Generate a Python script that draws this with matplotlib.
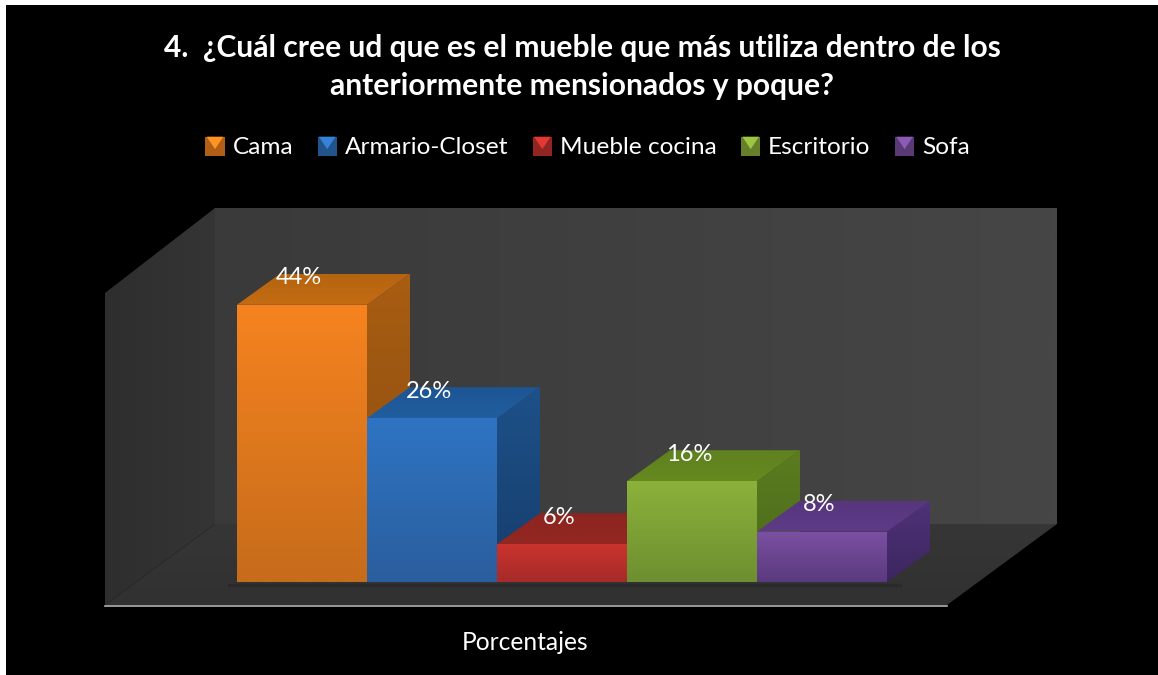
import matplotlib
matplotlib.use('Agg')
import matplotlib.pyplot as plt
import numpy as np
from matplotlib.colors import to_rgb
from matplotlib.legend_handler import HandlerBase
from matplotlib.patches import Patch, Polygon, Rectangle

plt.rcParams['font.family'] = ['Lato', 'DejaVu Sans']

categories = ['Cama', 'Armario-Closet', 'Mueble cocina', 'Escritorio', 'Sofa']
values = [44, 26, 6, 16, 8]
value_labels = ['44%', '26%', '6%', '16%', '8%']
title_lines = ['4.  ¿Cuál cree ud que es el mueble que más utiliza dentro de los',
               'anteriormente mensionados y poque?']
x_label = 'Porcentajes'

# colours: front top/bottom, roof back/front, side top/bottom
front_cols = [('#F6831F', '#C66C1B'), ('#2F74C2', '#2A5E9E'), ('#CB332E', '#A52B2A'),
              ('#8CB13B', '#6E8F30'), ('#7B50A2', '#5A3A7E')]
roof_cols = [('#B5640F', '#C46C14'), ('#1D5594', '#215E9F'), ('#8C2520', '#942722'),
             ('#5F8120', '#67891F'), ('#57367E', '#5F3B87')]
side_cols = [('#A85D12', '#8A4C10'), ('#1D5189', '#163D6C'), ('#7A201C', '#601A18'),
             ('#5C7C20', '#48681A'), ('#4F3278', '#3C2660')]
W, H = 1158, 675
PX_CAT, PX_PCT = 130, 6.3
DX, DY = 43 / PX_CAT, 31 / PX_PCT


def gradient(ax, pts, top, bottom, horizontal=False, z=2):
    # fill a polygon with a two stop gradient
    pts = np.array(pts)
    stops = np.linspace(to_rgb(top), to_rgb(bottom), 64)
    img = stops[None, :, :] if horizontal else stops[:, None, :]
    ext = [pts[:, 0].min(), pts[:, 0].max(), pts[:, 1].min(), pts[:, 1].max()]
    im = ax.imshow(img, extent=ext, origin='upper', aspect='auto', zorder=z,
                   interpolation='bilinear')
    clip = Polygon(pts, closed=True, transform=ax.transData, fc='none', ec='none')
    ax.add_patch(clip)
    im.set_clip_path(clip)


class PyramidHandler(HandlerBase):
    # legend key drawn like the bevelled squares of the chart
    def create_artists(self, legend, orig, xd, yd, width, height, fontsize, trans):
        s = 14
        x0, y0 = width - s, (height - s) / 2 - 1
        col = np.array(to_rgb(orig.get_facecolor()[:3]))
        base = Rectangle((x0, y0), s, s, fc=col * 0.72, ec='none', transform=trans)
        tri = Polygon([(x0 + 1, y0 + s), (x0 + s - 1, y0 + s), (x0 + s / 2, y0 + 5)],
                      fc=np.clip(col * 1.12, 0, 1), ec='none', transform=trans)
        return [base, tri]


fig = plt.figure(figsize=(W / 100, H / 100), dpi=100, facecolor='white')

# background axes, in picture pixels, for frame and walls
bg = fig.add_axes([0, 0, 1, 1])
bg.set_xlim(0, W)
bg.set_ylim(H, 0)
bg.set_autoscale_on(False)
bg.axis('off')
bg.add_patch(Rectangle((6, 5), W - 6, H - 5, fc='black', ec='none', zorder=0))
gradient(bg, [(215, 208), (1057, 208), (1057, 524), (215, 524)], '#3A3A3A', '#464646',
         horizontal=True, z=1)
gradient(bg, [(105, 293), (215, 208), (215, 524), (105, 605)], '#2E2E2E', '#353535',
         horizontal=True, z=1)
gradient(bg, [(105, 605), (215, 524), (1057, 524), (947, 605)], '#313131', '#363636',
         z=1)
bg.plot([105, 947], [605.5, 605.5], color='#B4B4B4', lw=1.2, zorder=2)

# bar axes over the whole picture, data units are categories and percent
ax = fig.add_axes([0, 0, 1, 1])
ax.set_xlim(-237 / PX_CAT, (W - 237) / PX_CAT)
ax.set_ylim((582 - H) / PX_PCT, 582 / PX_PCT)
ax.set_autoscale_on(False)
ax.axis('off')
ax.patch.set_alpha(0)

ax.plot([-0.06, 5.1], [-0.4, -0.4], color='#2A2A2A', lw=2.5, zorder=1)
for i, v in enumerate(values):
    z = 2 + i
    gradient(ax, [(i + 1, 0), (i + 1 + DX, DY), (i + 1 + DX, v + DY), (i + 1, v)],
             side_cols[i][0], side_cols[i][1], z=z)
    gradient(ax, [(i, v), (i + DX, v + DY), (i + 1 + DX, v + DY), (i + 1, v)],
             roof_cols[i][0], roof_cols[i][1], z=z)
    gradient(ax, [(i, 0), (i + 1, 0), (i + 1, v), (i, v)],
             front_cols[i][0], front_cols[i][1], z=z)
    ax.annotate(value_labels[i], (i + 0.5, v), xytext=(-3, 27), textcoords='offset pixels',
                ha='center', va='center', color='white', fontsize=17, zorder=20)

# title, legend, axis label
bg.text(582, 48, title_lines[0], ha='center', va='center', color='white', fontsize=21.6,
        fontweight='bold')
bg.text(582, 86, title_lines[1], ha='center', va='center', color='white', fontsize=21.6,
        fontweight='bold')
bg.text(525, 642, x_label, ha='center', va='center', color='white', fontsize=17.7)

handles = [Patch(facecolor=c[0], label=n) for c, n in zip(front_cols, categories)]
leg = ax.legend(handles=handles, ncol=5, loc='center', bbox_to_anchor=(590 / W, 1 - 147 / H),
                frameon=False, fontsize=17.6, labelcolor='white', handlelength=0.6,
                handletextpad=0.32, columnspacing=1.19, borderpad=0,
                handler_map={Patch: PyramidHandler()})
leg.set_zorder(20)

fig.savefig('out.png', dpi=100, facecolor=fig.get_facecolor())
